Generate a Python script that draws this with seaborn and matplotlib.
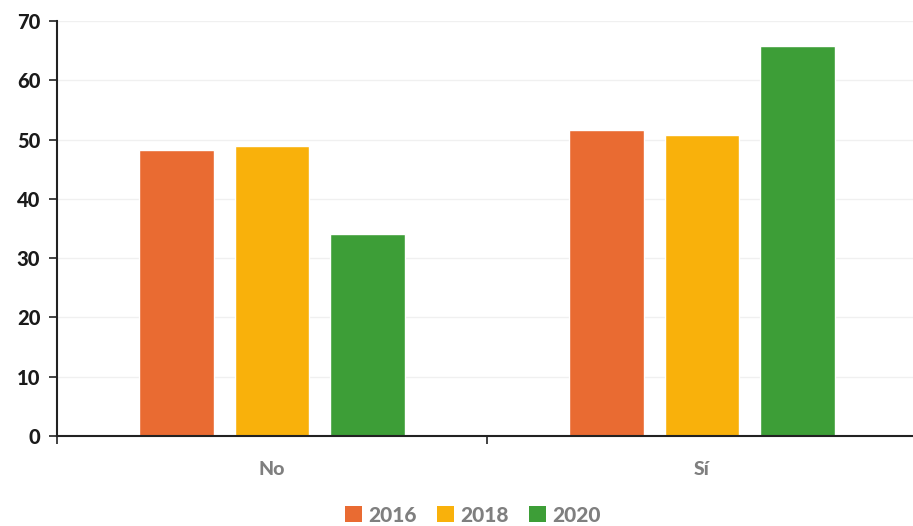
import matplotlib
matplotlib.use("Agg")
import matplotlib.pyplot as plt
import seaborn as sns
import pandas as pd
from matplotlib.patches import Patch

categories = ["No", "Sí"]
years = ["2016", "2018", "2020"]
values_2016 = [48.2, 51.6]
values_2018 = [49.0, 50.8]
values_2020 = [34.1, 65.7]
colors = ["#E96B32", "#F9B10B", "#3D9E37"]
y_ticks = [0, 10, 20, 30, 40, 50, 60, 70]

rows = []
for yr, vals in zip(years, [values_2016, values_2018, values_2020]):
    for c, v in zip(categories, vals):
        rows.append({"cat": c, "year": yr, "val": v})
df = pd.DataFrame(rows)

sns.set_style("white")
plt.rcParams["font.family"] = ["Lato", "DejaVu Sans"]

fig = plt.figure(figsize=(9.13, 5.26), dpi=100)
ax = fig.add_axes([57 / 913, 1 - 436 / 526, (917 - 57) / 913, (436 - 21) / 526])

sns.barplot(data=df, x="cat", y="val", hue="year", order=categories, hue_order=years,
            palette=colors, width=0.666, gap=0.215, ax=ax, legend=False, saturation=1)

ax.set_ylim(0, 70)
ax.set_xlim(-0.5, 1.5)
ax.set_yticks(y_ticks)
ax.set_yticklabels([str(t) for t in y_ticks], fontsize=14.5, fontweight="black", color="#1a1a1a")
ax.set_xticks([0, 1])
ax.set_xticklabels(categories, fontsize=14, fontweight="black", color="#7f7f7f")
ax.tick_params(axis="x", length=0, pad=18)
ax.set_xticks([-0.5, 0.5, 1.5], minor=True)
ax.tick_params(axis="x", which="minor", length=6, width=1.2, color="#222222", direction="out", bottom=True)
ax.tick_params(axis="y", length=6, width=1.2, color="#222222", direction="out", left=True, pad=6)
ax.set_xlabel("")
ax.set_ylabel("")
ax.yaxis.grid(True, color="#f0f0f0", linewidth=1)
ax.set_axisbelow(True)
for s in ["top", "right"]:
    ax.spines[s].set_visible(False)
for s in ["left", "bottom"]:
    ax.spines[s].set_color("#222222")
    ax.spines[s].set_linewidth(1.5)

handles = [Patch(facecolor=c, edgecolor="none") for c in colors]
leg = fig.legend(handles, years, loc="center", bbox_to_anchor=(0.518, 1 - 515 / 526), ncol=3,
                 frameon=False, handlelength=0.8, handleheight=0.8, handletextpad=0.3,
                 columnspacing=1.0, prop={"size": 15, "weight": "black"})
for t in leg.get_texts():
    t.set_color("#7f7f7f")

fig.savefig("out.png", dpi=100)
